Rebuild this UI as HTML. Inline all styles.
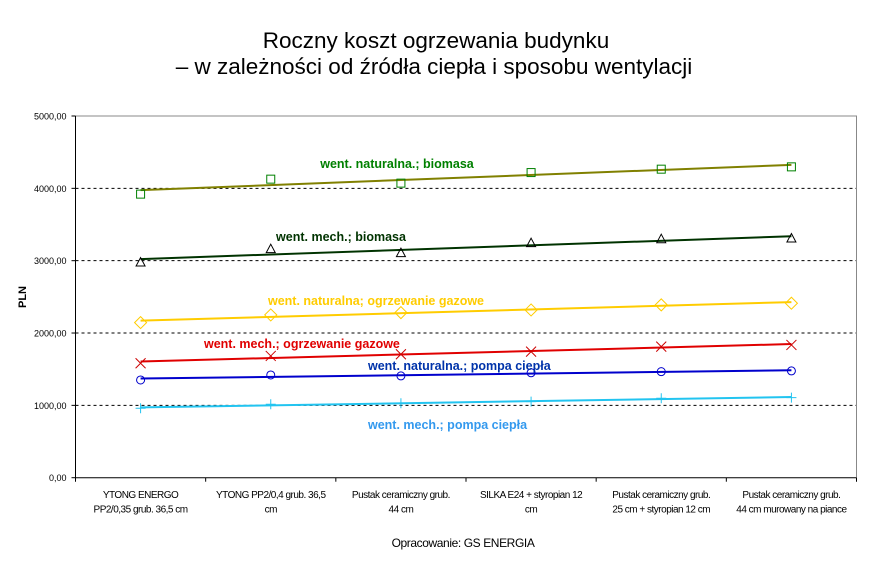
<!DOCTYPE html>
<html><head><meta charset="utf-8"><style>
body{margin:0;background:#fff;}
svg{display:block;font-family:"Liberation Sans",sans-serif;}
</style></head><body>
<svg id="chart" width="876" height="563" viewBox="0 0 876 563">
<text x="436" y="48" text-anchor="middle" font-size="22.5">Roczny koszt ogrzewania budynku</text>
<text x="434" y="74" text-anchor="middle" font-size="22.5">– w zależności od źródła ciepła i sposobu wentylacji</text>
<text x="26" y="297" text-anchor="middle" font-size="11" font-weight="bold" transform="rotate(-90 26 297)">PLN</text>
<text x="463" y="547" text-anchor="middle" font-size="12" letter-spacing="-0.4">Opracowanie: GS ENERGIA</text>
<g id="grid"></g><g id="axes"></g><g id="series"></g><g id="labels"></g>
</svg>
<script>
const categories=[["YTONG ENERGO","PP2/0,35 grub. 36,5 cm"],["YTONG PP2/0,4 grub. 36,5","cm"],["Pustak ceramiczny grub.","44 cm"],["SILKA E24 + styropian 12","cm"],["Pustak ceramiczny grub.","25 cm + styropian 12 cm"],["Pustak ceramiczny grub.","44 cm murowany na piance"]];
const yTicks=[0,1000,2000,3000,4000,5000];
const yTickLabels=["0,00","1000,00","2000,00","3000,00","4000,00","5000,00"];
const natBiomasa=[3920,4127,4072,4218,4265,4297];
const mechBiomasa=[2974,3159,3104,3242,3297,3306];
const natGaz=[2144,2250,2282,2319,2389,2412];
const mechGaz=[1582,1683,1707,1743,1812,1835];
const natPompa=[1351,1420,1407,1450,1466,1476];
const mechPompa=[960,1015,1029,1051,1098,1107];
const seriesNames=["went. naturalna.; biomasa","went. mech.; biomasa","went. naturalna; ogrzewanie gazowe","went. mech.; ogrzewanie gazowe","went. naturalna.; pompa ciepła","went. mech.; pompa ciepła"];

const NS="http://www.w3.org/2000/svg";
const L=75.5,R=856.5,T=116,B=477.7,YMAX=5000;
const bw=(R-L)/categories.length;
const x=i=>L+bw*(i+0.5);
const y=v=>B-(v/YMAX)*(B-T);
function mk(tag,attrs,parent){const e=document.createElementNS(NS,tag);for(const k in attrs)e.setAttribute(k,attrs[k]);parent.appendChild(e);return e;}
const grid=document.getElementById('grid'),axes=document.getElementById('axes'),ser=document.getElementById('series'),lab=document.getElementById('labels');

yTicks.forEach((t,i)=>{
  if(t>0&&t<YMAX){const g=mk('line',{x1:L,x2:R,y1:y(t),y2:y(t),stroke:'#000','stroke-width':1,'stroke-dasharray':'3,3'},grid);
  
  }
  const tk=mk('line',{x1:L-4,x2:L,y1:y(t),y2:y(t),stroke:'#000'},axes);
  
  
  const tl=mk('text',{x:L-9,y:y(t)+3.5,'text-anchor':'end','font-size':9},axes);
  
  
  tl.textContent=yTickLabels[i];
});
const frame=mk('path',{d:`M${L},${T}H${R}V${B}`,fill:'none',stroke:'#888'},axes);


const ax=mk('path',{d:`M${L},${T}V${B}H${R}`,fill:'none',stroke:'#000'},axes);


for(let i=0;i<=categories.length;i++){const tk=mk('line',{x1:L+bw*i,x2:L+bw*i,y1:B,y2:B+4,stroke:'#000'},axes);

}
categories.forEach((c,i)=>{
  c.forEach((s,j)=>{const t=mk('text',{x:x(i),y:498+j*14.5,'text-anchor':'middle','font-size':10,'letter-spacing':'-0.5'},axes);
  
  
  t.textContent=s;});
});

const data=[natBiomasa,mechBiomasa,natGaz,mechGaz,natPompa,mechPompa];
const lineCols=['#808000','#003300','#ffcc00','#e00000','#0000cc','#22c4f0'];
const markCols=['#008000','#000','#ffcc00','#cc0000','#0000cc','#22c4f0'];
const markers=['square','triangle','diamond','x','circle','plus'];
const labelPos=[[397,168,'#008000','middle'],[341,241,'#003300','middle'],[268,305,'#ffcc00','start'],[204,348,'#e00000','start'],[368,370,'#0033aa','start'],[368,429,'#3399ee','start']];

data.forEach((d,s)=>{
  const n=d.length;let sx=0,sy=0,sxy=0,sxx=0;
  d.forEach((v,i)=>{sx+=i;sy+=v;sxy+=i*v;sxx+=i*i;});
  const m=(n*sxy-sx*sy)/(n*sxx-sx*sx),b=(sy-m*sx)/n;
  const tl=mk('line',{x1:x(0),y1:y(b),x2:x(n-1),y2:y(b+m*(n-1)),stroke:lineCols[s],'stroke-width':2},ser);
  
  
  d.forEach((v,i)=>{
    const cx=x(i),cy=y(v),c=markCols[s],k=markers[s];let e;
    if(k==='square')e=mk('rect',{x:cx-4,y:cy-4,width:8,height:8,fill:'none',stroke:c},ser);
    else if(k==='triangle')e=mk('path',{d:`M${cx},${cy-5}L${cx+4.5},${cy+3.5}H${cx-4.5}Z`,fill:'none',stroke:c},ser);
    else if(k==='diamond')e=mk('path',{d:`M${cx},${cy-6}L${cx+6},${cy}L${cx},${cy+6}L${cx-6},${cy}Z`,fill:'none',stroke:c},ser);
    else if(k==='x')e=mk('path',{d:`M${cx-5},${cy-5}L${cx+5},${cy+5}M${cx+5},${cy-5}L${cx-5},${cy+5}`,stroke:c},ser);
    else if(k==='circle')e=mk('circle',{cx:cx,cy:cy,r:4,fill:'none',stroke:c},ser);
    else e=mk('path',{d:`M${cx-5},${cy}H${cx+5}M${cx},${cy-5}V${cy+5}`,stroke:c},ser);
    
    
  });
  const p=labelPos[s];
  const t=mk('text',{x:p[0],y:p[1],fill:p[2],'text-anchor':p[3],'font-size':12.5,'font-weight':'bold'},lab);
  
  
  t.textContent=seriesNames[s];
});
</script>
</body></html>
